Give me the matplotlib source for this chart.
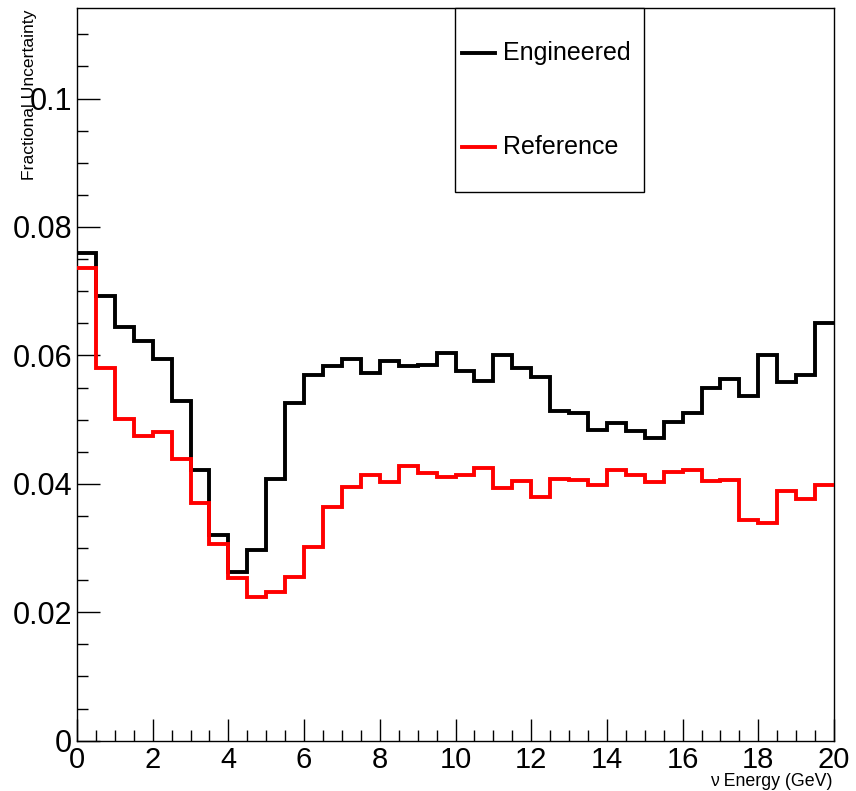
import numpy as np
import matplotlib
matplotlib.use("Agg")
import matplotlib.pyplot as plt
from matplotlib.patches import Rectangle
from matplotlib.lines import Line2D
from matplotlib.ticker import MultipleLocator, FixedLocator, FixedFormatter

plt.rcParams['font.family'] = ['Liberation Sans', 'DejaVu Sans']

# Neutrino energy binning (GeV)
bin_edges = np.arange(0.0, 20.0 + 0.25, 0.5)

# Fractional flux uncertainty per energy bin
engineered = [
    0.0760, 0.0693, 0.0645, 0.0622, 0.0594, 0.0529, 0.0422, 0.0320, 0.0262, 0.0297,
    0.0408, 0.0526, 0.0570, 0.0583, 0.0595, 0.0572, 0.0591, 0.0583, 0.0585, 0.0603,
    0.0576, 0.0560, 0.0600, 0.0581, 0.0567, 0.0514, 0.0510, 0.0484, 0.0494, 0.0483,
    0.0471, 0.0497, 0.0511, 0.0549, 0.0563, 0.0537, 0.0601, 0.0559, 0.0569, 0.0650,
]
reference = [
    0.0736, 0.0580, 0.0501, 0.0475, 0.0480, 0.0438, 0.0370, 0.0306, 0.0253, 0.0224,
    0.0231, 0.0255, 0.0302, 0.0364, 0.0395, 0.0414, 0.0403, 0.0428, 0.0417, 0.0411,
    0.0414, 0.0424, 0.0393, 0.0405, 0.0380, 0.0408, 0.0406, 0.0398, 0.0421, 0.0413,
    0.0403, 0.0418, 0.0422, 0.0405, 0.0406, 0.0344, 0.0339, 0.0389, 0.0377, 0.0398,
]

series_labels = ["Engineered", "Reference"]
series_colors = ["black", "#ff0000"]

y_ticks = [0.0, 0.02, 0.04, 0.06, 0.08, 0.1]
y_tick_labels = ["0", "0.02", "0.04", "0.06", "0.08", "0.1"]
x_ticks = [0, 2, 4, 6, 8, 10, 12, 14, 16, 18, 20]

W, H = 856, 791
fig = plt.figure(figsize=(W / 100, H / 100), dpi=100)
ax_l, ax_r, ax_b, ax_t = 77, 834, 740.7, 8
ax = fig.add_axes([ax_l / W, 1 - ax_b / H, (ax_r - ax_l) / W, (ax_b - ax_t) / H])

lw = 2.8
for vals, col in zip([engineered, reference], series_colors):
    ax.stairs(vals, bin_edges, baseline=None, color=col, linewidth=lw,
              zorder=3)

ax.set_xlim(0, 20)
ax.set_ylim(0, 0.1141)

for side in ['left', 'bottom', 'right', 'top']:
    ax.spines[side].set_linewidth(1.0)
    ax.spines[side].set_color('black')

ax.xaxis.set_major_locator(FixedLocator(x_ticks))
ax.xaxis.set_minor_locator(MultipleLocator(0.5))
ax.yaxis.set_major_locator(FixedLocator(y_ticks))
ax.yaxis.set_major_formatter(FixedFormatter(y_tick_labels))
ax.yaxis.set_minor_locator(MultipleLocator(0.005))

ax.tick_params(axis='both', which='both', direction='in', top=False, right=False,
               width=1.0, color='black')
ax.tick_params(axis='y', which='major', length=16.5, pad=3.5, labelsize=22)
ax.tick_params(axis='y', which='minor', length=8)
ax.tick_params(axis='x', which='major', length=15.5, pad=3.5, labelsize=21)
ax.tick_params(axis='x', which='minor', length=8)

# Axis titles (ROOT-style: pinned to the far ends of the axes)
fig.text(30 / W, 1 - 10 / H, "Fractional Uncertainty", rotation=90,
         ha='center', va='top', fontsize=12.6)
fig.text(833 / W, 1 - 782 / H, "ν Energy (GeV)", ha='right', va='center',
         fontsize=12.8)

# Legend box
def ax_x(px):
    return (px - ax_l) / (ax_r - ax_l)

def ax_y(py):
    return (ax_b - py) / (ax_b - ax_t)

ax.add_patch(Rectangle((ax_x(455), ax_y(191.7)), ax_x(644) - ax_x(455),
                       ax_y(8) - ax_y(191.7), transform=ax.transAxes,
                       facecolor='white', edgecolor='black', linewidth=1.0,
                       zorder=5, clip_on=False))
for lab, col, py in zip(series_labels, series_colors, [53, 147]):
    ax.add_line(Line2D([ax_x(462), ax_x(495)], [ax_y(py), ax_y(py)],
                       transform=ax.transAxes, color=col, linewidth=lw,
                       zorder=6, clip_on=False))
    ax.text(ax_x(503), ax_y(py), lab, transform=ax.transAxes, ha='left',
            va='center', fontsize=18, zorder=6)

fig.savefig("out.png", dpi=100)
